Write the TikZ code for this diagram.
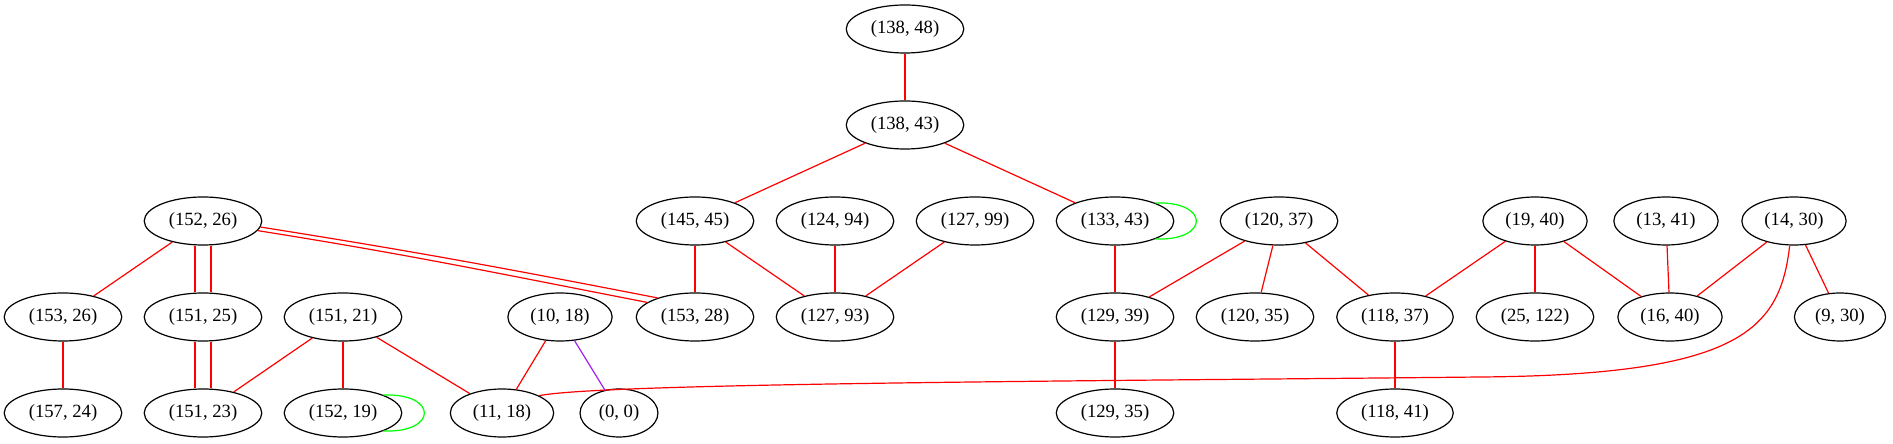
\documentclass[tikz,border=0pt]{standalone}
\usepackage{fontspec}
\setmainfont{Liberation Serif}
\usepackage{xcolor}
\usetikzlibrary{shapes.geometric}
\definecolor{gvpurple}{RGB}{160,32,240}
\definecolor{gvgreen}{RGB}{0,255,0}

\begin{document}
\begin{tikzpicture}[x=0.75pt,y=0.75pt]
  \tikzset{pair/.style = {shape=ellipse,draw,line width=0.9pt,inner xsep=5.5pt,inner ysep=0pt,minimum height=36pt,font=\fontsize{14}{16}\selectfont}}
  \tikzset{redge/.style = {red,line width=0.9pt}}
  \tikzset{gedge/.style = {gvgreen,line width=0.9pt}}
  \tikzset{pedge/.style = {gvpurple,line width=0.9pt}}

  \useasboundingbox (0,0) rectangle (1893,443);

	\node[pair] (n138x48) at (905,414) {(138, 48)};
	\node[pair] (n138x43) at (905,318) {(138, 43)};

	\node[pair] (n152x26) at (203,222) {(152, 26)};
	\node[pair] (n145x45) at (695,222) {(145, 45)};
	\node[pair] (n124x94) at (835,222) {(124, 94)};
	\node[pair] (n127x99) at (975,222) {(127, 99)};
	\node[pair] (n133x43) at (1115,222) {(133, 43)};
	\node[pair] (n120x37) at (1279,222) {(120, 37)};
	\node[pair] (n19x40) at (1535,222) {(19, 40)};
	\node[pair] (n13x41) at (1666,222) {(13, 41)};
	\node[pair] (n14x30) at (1794,222) {(14, 30)};

	\node[pair] (n153x26) at (63,126) {(153, 26)};
	\node[pair] (n151x25) at (203,126) {(151, 25)};
	\node[pair] (n151x21) at (343,126) {(151, 21)};
	\node[pair] (n10x18) at (560,126) {(10, 18)};
	\node[pair] (n153x28) at (695,126) {(153, 28)};
	\node[pair] (n127x93) at (835,126) {(127, 93)};
	\node[pair] (n129x39) at (1115,126) {(129, 39)};
	\node[pair] (n120x35) at (1255,126) {(120, 35)};
	\node[pair] (n118x37) at (1395,126) {(118, 37)};
	\node[pair] (n25x122) at (1535,126) {(25, 122)};
	\node[pair] (n16x40) at (1670,126) {(16, 40)};
	\node[pair] (n9x30) at (1840,126) {(9, 30)};

	\node[pair] (n157x24) at (63,30) {(157, 24)};
	\node[pair] (n151x23) at (203,30) {(151, 23)};
	\node[pair] (n152x19) at (343,30) {(152, 19)};
	\node[pair] (n11x18) at (502,30) {(11, 18)};
	\node[pair] (n0x0) at (619,30) {(0, 0)};
	\node[pair] (n129x35) at (1115,30) {(129, 35)};
	\node[pair] (n118x41) at (1395,30) {(118, 41)};

    \foreach \from/\to in {n138x48/n138x43, n138x43/n145x45, n138x43/n133x43, n152x26/n153x26, n145x45/n153x28, n145x45/n127x93, n124x94/n127x93, n127x99/n127x93, n133x43/n129x39, n120x37/n129x39, n120x37/n120x35, n120x37/n118x37, n19x40/n118x37, n19x40/n25x122, n19x40/n16x40, n13x41/n16x40, n14x30/n16x40, n14x30/n9x30, n153x26/n157x24, n151x21/n151x23, n151x21/n152x19, n151x21/n11x18, n10x18/n11x18, n129x39/n129x35, n118x37/n118x41}
    \path[redge](\from) edge (\to);

    \path[redge] ([xshift=-6pt]n152x26.south) edge ([xshift=-6pt]n151x25.north)
                 ([xshift=6pt]n152x26.south) edge ([xshift=6pt]n151x25.north)
                 ([xshift=-6pt]n151x25.south) edge ([xshift=-6pt]n151x23.north)
                 ([xshift=6pt]n151x25.south) edge ([xshift=6pt]n151x23.north);
    \path[redge] (n152x26.-6) edge[out=-9,in=169] (n153x28.153)
                 (n152x26.-10) edge[out=-9,in=169] (n153x28.163);
    \draw[redge] (n14x30.-100) .. controls (1780,113) and (1740,68) .. (1480,66)
                 .. controls (1100,62) and (600,60) .. (n11x18.25);

    \path[pedge] (n10x18) edge (n0x0);

    \draw[gedge] (n133x43.24) .. controls (1210,242) and (1210,202) .. (n133x43.-24);
    \draw[gedge] (n152x19.24) .. controls (438,50) and (438,10) .. (n152x19.-24);

\end{tikzpicture}
\end{document}
